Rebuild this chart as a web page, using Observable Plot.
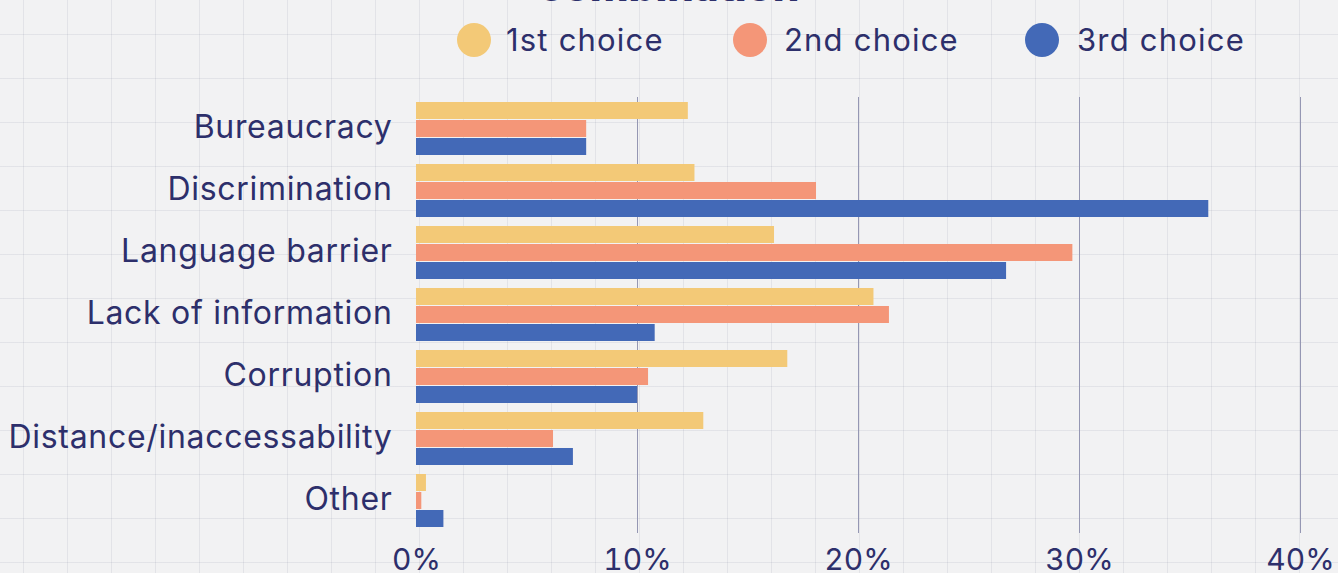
<!DOCTYPE html>
<html>
<head>
<meta charset="utf-8">
<script src="https://cdn.jsdelivr.net/npm/d3@7"></script>
<script src="https://cdn.jsdelivr.net/npm/@observablehq/plot@0.6"></script>
<style>
html, body { margin: 0; padding: 0; }
body {
  width: 1338px; height: 573px; overflow: hidden; position: relative;
  background-color: #f2f2f3;
  background-image:
    linear-gradient(to right, rgba(120,125,150,0.13) 1.5px, transparent 1.5px),
    linear-gradient(to bottom, rgba(120,125,150,0.13) 1.5px, transparent 1.5px);
  background-size: 44px 44px;
  background-position: 23px 34px;
  font-family: Inter, "Noto Sans", sans-serif;
  color: #2d2f6b;
}
#title { position: absolute; top: -36px; left: 0; width: 1338px; text-align: center;
  font-size: 42px; font-weight: 800; line-height: 44px; color: #2d2f6b; }
#legend { position: relative; height: 80px; }
.dot { position: absolute; width: 34px; height: 34px; border-radius: 50%; top: 23px; }
.lab { position: absolute; top: 20px; font-size: 31px; line-height: 40px; letter-spacing: 1.2px; color: #2d2f6b; }
#chart { position: absolute; top: 80px; left: 0; }
#chart g[aria-label="fy-axis tick label"] { letter-spacing: 0.7px; }
</style>
</head>
<body>
<div id="title">combination</div>
<div id="legend"></div>
<div id="chart"></div>
<script>
const categories = ["Bureaucracy", "Discrimination", "Language barrier", "Lack of information", "Corruption", "Distance/inaccessability", "Other"];
const choices = ["1st choice", "2nd choice", "3rd choice"];
const firstChoice  = [12.3, 12.6, 16.2, 20.7, 16.8, 13.0, 0.45];
const secondChoice = [7.7, 18.1, 29.7, 21.4, 10.5, 6.2, 0.24];
const thirdChoice  = [7.7, 35.85, 26.7, 10.8, 10.0, 7.1, 1.24];
const colors = ["#f3c977", "#f49678", "#4369b7"];
const xTicks = [0, 10, 20, 30, 40];

const series = [firstChoice, secondChoice, thirdChoice];
const data = [];
categories.forEach((c, i) => {
  choices.forEach((ch, j) => data.push({category: c, choice: ch, value: series[j][i]}));
});

// legend (HTML)
const legendX = [[474, 506], [750, 784], [1042, 1077]];
const legend = document.getElementById("legend");
choices.forEach((ch, j) => {
  const d = document.createElement("div");
  d.className = "dot";
  d.style.left = (legendX[j][0] - 17) + "px";
  d.style.background = colors[j];
  legend.appendChild(d);
  const t = document.createElement("div");
  t.className = "lab";
  t.style.left = legendX[j][1] + "px";
  t.textContent = ch;
  legend.appendChild(t);
});

const plot = Plot.plot({
  width: 1338,
  height: 493,
  marginLeft: 416,
  marginRight: 38,
  marginTop: 21,
  marginBottom: 44,
  style: {background: "transparent", color: "#2d2f6b", fontFamily: "Inter, 'Noto Sans', sans-serif", overflow: "visible"},
  x: {domain: [0, 40], label: null, axis: null},
  y: {domain: choices, axis: null, paddingInner: 0.04, paddingOuter: 0},
  fy: {domain: categories, paddingInner: 0.1, paddingOuter: 0, label: null, axis: null},
  color: {domain: choices, range: colors},
  marks: [
    Plot.ruleX([10, 20, 30, 40], {stroke: "#9597b3", strokeWidth: 1, insetTop: -4, insetBottom: -4}),
    Plot.barX(data, {fy: "category", y: "choice", x: "value", fill: "choice"}),
    Plot.axisFy({anchor: "left", domain: categories, tickSize: 0, tickPadding: 24, fontSize: 32, dy: -2, label: null, fill: "#2d2f6b"}),
    Plot.axisX({anchor: "bottom", ticks: xTicks, tickFormat: d => d + "%", tickSize: 0, tickPadding: 19, fontSize: 30, label: null, fill: "#2d2f6b", facetAnchor: "bottom"})
  ]
});
document.getElementById("chart").appendChild(plot);
</script>
</body>
</html>
